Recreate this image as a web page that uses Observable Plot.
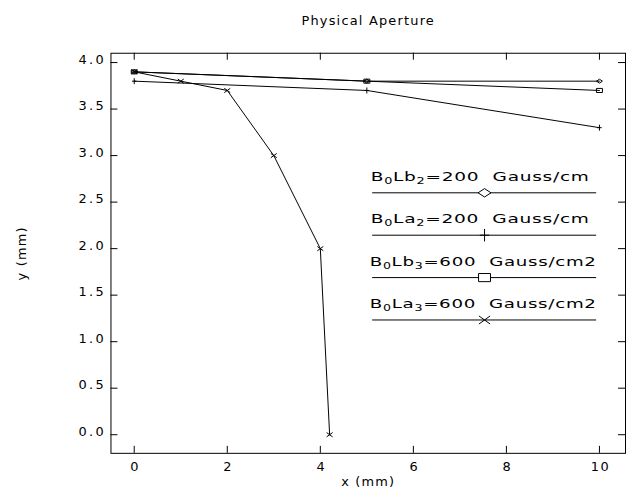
<!DOCTYPE html>
<html><head><meta charset="utf-8">
<script src="https://cdn.jsdelivr.net/npm/d3@7"></script>
<script src="https://cdn.jsdelivr.net/npm/@observablehq/plot@0.6"></script>
<style>
html,body{margin:0;padding:0;background:#fff;overflow:hidden;}
#chart svg text{letter-spacing:1.2px;}
#chart svg .legtext text{letter-spacing:0.5px;white-space:pre;}
#chart svg .ticklab text{letter-spacing:1.6px;}
#chart svg .yticklab text{letter-spacing:2.3px;}
</style></head><body><div id="chart"></div>
<script>
// ---- data ----
const xTicks = [0, 2, 4, 6, 8, 10];
const yTicks = [0, 0.5, 1, 1.5, 2, 2.5, 3, 3.5, 4];
const seriesNames = ["Lb2", "La2", "Lb3", "La3"];
const seriesLabels = ["B_0Lb_2=200  Gauss/cm", "B_0La_2=200  Gauss/cm", "B_0Lb_3=600  Gauss/cm2", "B_0La_3=600  Gauss/cm2"];
const lb2X = [0, 5, 10];            const lb2Y = [3.9, 3.8, 3.8];
const la2X = [0, 5, 10];            const la2Y = [3.8, 3.7, 3.3];
const lb3X = [0, 5, 10];            const lb3Y = [3.9, 3.8, 3.7];
const la3X = [0, 1, 2, 3, 4, 4.2];  const la3Y = [3.9, 3.8, 3.7, 3.0, 2.0, 0.0];

const seriesX = [lb2X, la2X, lb3X, la3X];
const seriesY = [lb2Y, la2Y, lb3Y, la3Y];
const table = seriesNames.map((s, i) => seriesX[i].map((x, j) => ({series: s, x, y: seriesY[i][j]})));

// ---- symbols (Hershey-like, slightly flattened) ----
const rr = (size) => Math.sqrt(size / Math.PI);
const symDiamond = {draw(c, s){const r = rr(s); c.moveTo(-r,0); c.lineTo(0,-0.65*r); c.lineTo(r,0); c.lineTo(0,0.65*r); c.closePath();}};
const symPlus = {draw(c, s){const r = rr(s); c.moveTo(-0.75*r,0); c.lineTo(0.75*r,0); c.moveTo(0,-r); c.lineTo(0,r);}};
const symSquare = {draw(c, s){const r = rr(s); c.moveTo(-r,-0.68*r); c.lineTo(r,-0.68*r); c.lineTo(r,0.68*r); c.lineTo(-r,0.68*r); c.closePath();}};
const symTimes = {draw(c, s){const r = rr(s); c.moveTo(-r,-0.72*r); c.lineTo(r,0.72*r); c.moveTo(-r,0.72*r); c.lineTo(r,-0.72*r);}};
const symbols = [symDiamond, symPlus, symSquare, symTimes];
const legR = [6.5, 6.3, 6, 5.6];

// ---- layout ----
const W = 629, H = 491, mL = 111, mR = 1, mT = 53, mB = 36;
const fw = W - mL - mR, fh = H - mT - mB, tk = 7;
const legX1 = 5.125, legX2 = 9.94, legXm = 7.53, legTop = 2.6, legStep = 0.4556, legTextDy = -12;
const legDx = [-4.5, -4.5, -1.5, -1.5];
const legend = seriesNames.map((s, i) => ({i, y: legTop - i * legStep, label: seriesLabels[i]}));

const marks = [
  Plot.frame({stroke: "black", strokeWidth: 1}),
  Plot.ruleX(xTicks, {insetTop: fh - tk, stroke: "black"}),
  Plot.ruleX(xTicks, {insetBottom: fh - tk, stroke: "black"}),
  Plot.ruleY(yTicks, {insetRight: fw - tk, stroke: "black"}),
  Plot.ruleY(yTicks, {insetLeft: fw - tk, stroke: "black"}),
  Plot.text(xTicks, {x: d => d, frameAnchor: "bottom", lineAnchor: "top", textAnchor: "middle", dy: 9, dx: 1, fontSize: 13, text: d => String(d), className: "ticklab"}),
  Plot.text(yTicks, {y: d => d, frameAnchor: "left", lineAnchor: "middle", textAnchor: "end", dx: -5, dy: -3, fontSize: 13, text: d => d3.format(".1f")(d), className: "yticklab"}),
  Plot.text(["Physical Aperture"], {frameAnchor: "top", lineAnchor: "middle", textAnchor: "middle", dy: -33, fontSize: 13}),
  Plot.text(["x (mm)"], {frameAnchor: "bottom", lineAnchor: "middle", textAnchor: "middle", dy: 29, fontSize: 13}),
  Plot.text(["y (mm)"], {frameAnchor: "left", lineAnchor: "middle", textAnchor: "middle", dx: -90, rotate: -90, fontSize: 13}),
];
table.forEach((d, i) => {
  marks.push(Plot.line(d, {x: "x", y: "y", stroke: "black", strokeWidth: 1}));
  marks.push(Plot.dot(d, {x: "x", y: "y", symbol: symbols[i], r: 3, stroke: "black", fill: "none", strokeWidth: 1}));
});
// legend
marks.push(Plot.ruleY(legend, {y: "y", x1: legX1, x2: legX2, stroke: "black", strokeWidth: 1}));
legend.forEach((d, i) => {
  marks.push(Plot.dot([d], {x: legXm, y: "y", symbol: symbols[i], r: legR[i], stroke: "black", fill: i === 1 || i === 3 ? "none" : "white", strokeWidth: 1}));
  marks.push(Plot.text([d], {x: (legX1 + legX2) / 2, y: "y", text: "label", dy: legTextDy, dx: legDx[i], lineAnchor: "bottom", textAnchor: "middle", fontSize: 13, className: "legtext"}));
});

const plot = Plot.plot({
  width: W, height: H, marginLeft: mL, marginRight: mR, marginTop: mT, marginBottom: mB,
  x: {domain: [-0.5, 10.56], axis: null},
  y: {domain: [-0.2, 4.1], axis: null},
  style: {fontFamily: "DejaVu Sans", fontSize: "13px", color: "black", background: "white"},
  marks
});
document.getElementById("chart").appendChild(plot);

// subscripts for legend labels
const legWidths = [220, 220, 228, 228];
d3.select(plot).selectAll(".legtext text").each(function(_, k) {
  const t = d3.select(this);
  const s = t.text();
  t.text("");
  const re = /_(.)/g; let last = 0, m; const parts = [];
  while ((m = re.exec(s))) { if (m.index > last) parts.push([s.slice(last, m.index), false]); parts.push([m[1], true]); last = re.lastIndex; }
  if (last < s.length) parts.push([s.slice(last), false]);
  let down = false;
  parts.forEach(([str, sub]) => {
    const ts = t.append("tspan").text(str);
    if (sub && !down) { ts.attr("dy", 3).attr("font-size", 9); down = true; }
    else if (sub) { ts.attr("font-size", 9); }
    else if (down) { ts.attr("dy", -3); down = false; }
  });
  t.attr("textLength", legWidths[k]).attr("lengthAdjust", "spacingAndGlyphs");
});
</script></body></html>
